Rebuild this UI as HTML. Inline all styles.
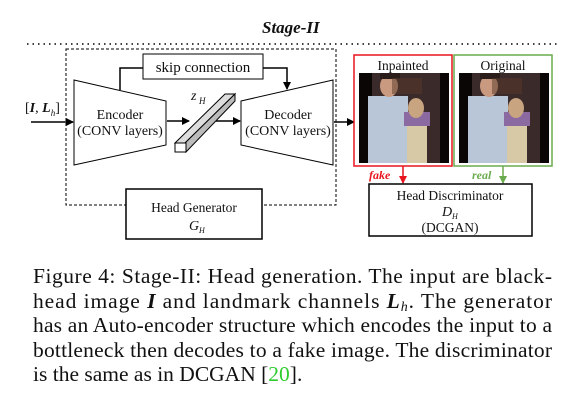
<!DOCTYPE html>
<html><head><style>
html,body{margin:0;padding:0;background:#fff;}
svg{display:block;}
text{font-family:"Liberation Serif",serif;fill:#111;}
</style></head><body>
<svg width="584" height="413" viewBox="0 0 584 413" xmlns="http://www.w3.org/2000/svg">
<defs>
<marker id="ah" markerWidth="8" markerHeight="8" refX="7" refY="4" orient="auto" markerUnits="userSpaceOnUse"><path d="M0,0 L8,4 L0,8 Z" fill="#000"/></marker>
<marker id="ar" markerWidth="8" markerHeight="8" refX="7" refY="4" orient="auto" markerUnits="userSpaceOnUse"><path d="M0,0 L8,4 L0,8 Z" fill="#e8141e"/></marker>
<marker id="ag" markerWidth="8" markerHeight="8" refX="7" refY="4" orient="auto" markerUnits="userSpaceOnUse"><path d="M0,0 L8,4 L0,8 Z" fill="#6aab4e"/></marker>
</defs>
<text x="262" y="33" font-size="17" font-weight="bold" font-style="italic">Stage-II</text>
<line x1="27" y1="44" x2="557" y2="44" stroke="#000" stroke-width="1.5" stroke-dasharray="1.5,4"/>
<rect x="66" y="49" width="270" height="156" fill="none" stroke="#000" stroke-width="1" stroke-dasharray="3,2"/>
<polyline points="120,90 120,68 143,68" fill="none" stroke="#000" stroke-width="1.5"/>
<polyline points="263,68 287,68 287,89" fill="none" stroke="#000" stroke-width="1.5" marker-end="url(#ah)"/>
<rect x="143" y="54" width="120" height="25" fill="#fff" stroke="#000" stroke-width="1"/>
<text x="203" y="72" font-size="15" text-anchor="middle">skip connection</text>
<polygon points="74,80 166,101 166,145 74,165" fill="#fff" stroke="#000" stroke-width="1"/>
<text x="120" y="119" font-size="14" text-anchor="middle">Encoder</text>
<text x="120" y="135" font-size="14" text-anchor="middle">(CONV layers)</text>
<polygon points="241,101 333,80 333,165 241,145" fill="#fff" stroke="#000" stroke-width="1"/>
<text x="288" y="119" font-size="14" text-anchor="middle">Decoder</text>
<text x="288" y="135" font-size="14" text-anchor="middle">(CONV layers)</text>
<line x1="31" y1="122" x2="73" y2="122" stroke="#000" stroke-width="1.5" marker-end="url(#ah)"/>
<text x="25" y="112" font-size="14">[<tspan font-weight="bold" font-style="italic">I</tspan>, <tspan font-weight="bold" font-style="italic">L</tspan><tspan font-size="9" font-style="italic" dy="4">h</tspan><tspan dy="-4">]</tspan></text>
<line x1="167" y1="121" x2="189" y2="121" stroke="#000" stroke-width="1.5" marker-end="url(#ah)"/>
<line x1="216" y1="121" x2="240" y2="121" stroke="#000" stroke-width="1.5" marker-end="url(#ah)"/>
<line x1="334" y1="122" x2="354" y2="122" stroke="#000" stroke-width="1.5" marker-end="url(#ah)"/>
<polygon points="175,143 225,94 235,94 185,143" fill="#ddd" stroke="#000" stroke-width="1"/>
<polygon points="185,143 235,94 235,101 186,152" fill="#bbb" stroke="#000" stroke-width="1"/>
<rect x="175" y="143" width="11" height="9" fill="#fff" stroke="#000" stroke-width="1"/>
<text x="191" y="100" font-size="14" font-style="italic">z</text><text x="199" y="104" font-size="9" font-style="italic">H</text>
<rect x="126" y="189" width="136" height="50" fill="#fff" stroke="#000" stroke-width="1.5"/>
<text x="194" y="212" font-size="13.5" text-anchor="middle">Head Generator</text>
<text x="189" y="230" font-size="14" font-style="italic">G</text><text x="199" y="233" font-size="8" font-style="italic">H</text>
<rect x="354" y="55" width="98" height="111" fill="#fff" stroke="#e8141e" stroke-width="1.5"/>
<text x="403" y="70" font-size="13.5" text-anchor="middle">Inpainted</text>
<rect x="454" y="55" width="98" height="111" fill="#fff" stroke="#6aab4e" stroke-width="1.5"/>
<text x="503" y="70" font-size="13.5" text-anchor="middle">Original</text>
<g id="ph">
<rect x="359" y="73" width="90" height="90" fill="#0a0606"/>
<rect x="372" y="73" width="68" height="90" fill="#3a2a2a"/>
<rect x="368" y="96" width="40" height="67" fill="#b9c6d8"/>
<ellipse cx="389" cy="86" rx="9" ry="11" fill="#c99a80"/>
<rect x="380" y="73" width="20" height="6" fill="#2a1c18"/>
<rect x="407" y="125" width="20" height="38" fill="#d8c9a6"/>
<rect x="404" y="112" width="26" height="14" fill="#8a6aa0"/>
<ellipse cx="416" cy="108" rx="8" ry="10" fill="#c8a480"/>
<rect x="392" y="78" width="30" height="16" fill="#5a3a2a" opacity="0.5"/>
</g>
<use href="#ph" x="100"/>
<line x1="403" y1="166" x2="403" y2="183" stroke="#e8141e" stroke-width="1.5" marker-end="url(#ar)"/>
<text x="369" y="179" font-size="12" font-weight="bold" font-style="italic" style="fill:#e8141e">fake</text>
<line x1="503" y1="166" x2="503" y2="183" stroke="#6aab4e" stroke-width="1.5" marker-end="url(#ag)"/>
<text x="472" y="179" font-size="12" font-weight="bold" font-style="italic" style="fill:#6aab4e">real</text>
<rect x="369" y="184" width="163" height="52" fill="#fff" stroke="#000" stroke-width="1.5"/>
<text x="450" y="200" font-size="13.5" text-anchor="middle">Head Discriminator</text>
<text x="442" y="216" font-size="14" font-style="italic">D</text><text x="452" y="219" font-size="8" font-style="italic">H</text>
<text x="450" y="232" font-size="13.5" text-anchor="middle">(DCGAN)</text>
<g font-size="21.5">
<text x="33" y="283" textLength="519" lengthAdjust="spacing">Figure 4: Stage-II: Head generation. The input are black-</text>
<text x="33" y="308" textLength="519" lengthAdjust="spacing">head image <tspan font-weight="bold" font-style="italic">I</tspan> and landmark channels <tspan font-weight="bold" font-style="italic">L</tspan><tspan font-style="italic" font-size="14" dy="3">h</tspan><tspan dy="-3">.</tspan>  The generator</text>
<text x="33" y="332" textLength="519" lengthAdjust="spacing">has an Auto-encoder structure which encodes the input to a</text>
<text x="33" y="357" textLength="519" lengthAdjust="spacing">bottleneck then decodes to a fake image. The discriminator</text>
<text x="33" y="381">is the same as in DCGAN [<tspan style="fill:#2ecc2e">20</tspan>].</text>
</g>
</svg>
</body></html>
